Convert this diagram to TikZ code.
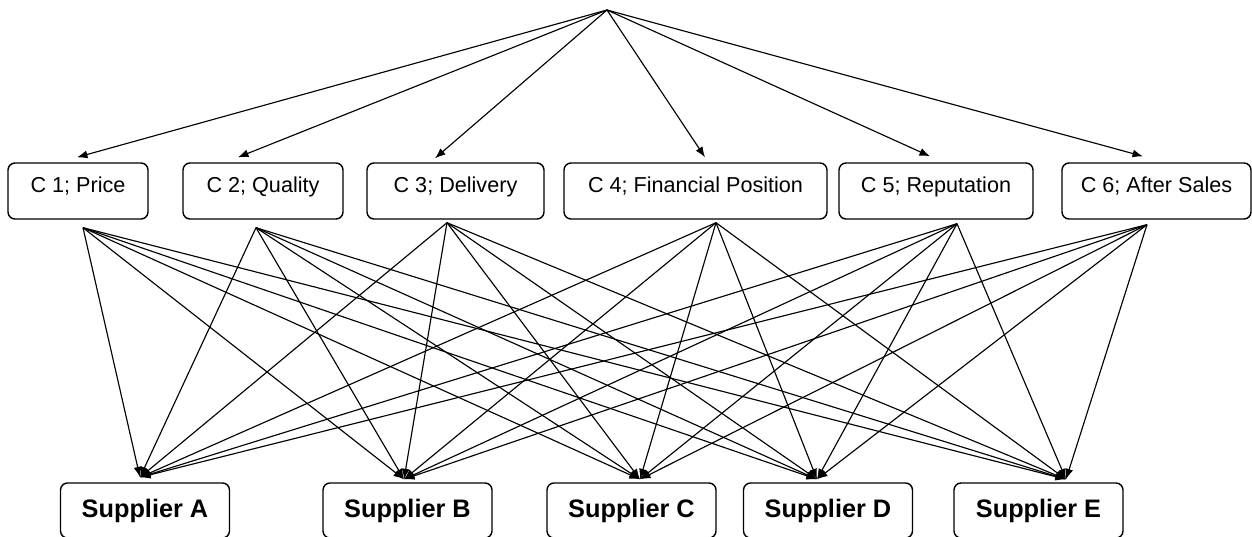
\documentclass[tikz,border=0pt]{standalone}
\usepackage{fontspec}
\setmainfont{Liberation Sans}
\setsansfont{Liberation Sans}
\usepackage{tikz}
\usetikzlibrary{arrows.meta,positioning,calc}
\tikzstyle{every picture}+=[font=\sffamily]

\tikzset{
	crit/.style={draw, rounded corners=0.14cm, line width=0.8pt, inner sep=0pt,
		minimum height=1.12cm, text height=9pt, text depth=7.6pt,
		font=\sffamily\fontsize{12.3}{14}\selectfont},
	supp/.style={draw, rounded corners=0.14cm, line width=0.8pt, inner sep=0pt,
		minimum height=1.1cm, minimum width=3.38cm,
		font=\sffamily\bfseries\fontsize{14.4}{16}\selectfont},
	link/.style={line width=0.65pt, -{Latex[length=0.21cm, width=0.16cm]}}
}

\begin{document}
\begin{tikzpicture}
		[x=0.02cm, y=-0.02cm, inner sep=0pt]
		
		\useasboundingbox (0, 0) rectangle (1252, 537);
		
		% goal ---------------------------------------------------
		\coordinate (goal) at (607, 10);
		
		% criteria -----------------------------------------------
		\node[crit, minimum width=2.80cm] (c1) at (78, 191)   {C 1; Price};
		\node[crit, minimum width=3.20cm] (c2) at (263, 191)  {C 2; Quality};
		\node[crit, minimum width=3.54cm] (c3) at (455.5, 191) {C 3; Delivery};
		\node[crit, minimum width=5.26cm] (c4) at (695.5, 191) {C 4; Financial Position};
		\node[crit, minimum width=3.88cm] (c5) at (936, 191)  {C 5; Reputation};
		\node[crit, minimum width=3.78cm] (c6) at (1156.5, 191) {C 6; After Sales};
		
		% suppliers ----------------------------------------------
		\node[supp] (sa) at (145, 510.5)    {Supplier A};
		\node[supp] (sb) at (407.5, 510.5)  {Supplier B};
		\node[supp] (sc) at (631.5, 510.5)  {Supplier C};
		\node[supp] (sd) at (828, 510.5)    {Supplier D};
		\node[supp] (se) at (1038.5, 510.5) {Supplier E};
		
		% ends of the connectors ---------------------------------
		\coordinate (c1-in) at ($(c1.north)+(-1, -5)$);
		\coordinate (c2-in) at ($(c2.north)+(-25, -5)$);
		\coordinate (c3-in) at ($(c3.north)+(-20.5, -4)$);
		\coordinate (c4-in) at ($(c4.north)+(9.5, -5)$);
		\coordinate (c5-in) at ($(c5.north)+(-6, -6)$);
		\coordinate (c6-in) at ($(c6.north)+(-13.5, -6)$);
		
		\coordinate (c1-out) at ($(c1.south)+(5, 8)$);
		\coordinate (c2-out) at ($(c2.south)+(-7, 8)$);
		\coordinate (c3-out) at ($(c3.south)+(-8.5, 3)$);
		\coordinate (c4-out) at ($(c4.south)+(20.5, 3)$);
		\coordinate (c5-out) at ($(c5.south)+(21, 4)$);
		\coordinate (c6-out) at ($(c6.south)+(-9.5, 5)$);
		
		\coordinate (sa-in) at ($(sa.north)+(-5, -5)$);
		\coordinate (sb-in) at ($(sb.north)+(-3.5, -3)$);
		\coordinate (sc-in) at ($(sc.north)+(8.5, -3)$);
		\coordinate (sd-in) at ($(sd.north)+(-11, -3)$);
		\coordinate (se-in) at ($(se.north)+(27.5, -3)$);
		
		% goal to criteria ---------------------------------------
		\draw (goal) edge[link] (c1-in) edge[link] (c2-in) edge[link] (c3-in)
			edge[link] (c4-in) edge[link] (c5-in) edge[link] (c6-in);
		
		% criteria to suppliers ----------------------------------
		\draw (c1-out) edge[link] (sa-in) edge[link] (sb-in) edge[link] (sc-in) edge[link] (sd-in) edge[link] (se-in);
		\draw (c2-out) edge[link] (sa-in) edge[link] (sb-in) edge[link] (sc-in) edge[link] (sd-in) edge[link] (se-in);
		\draw (c3-out) edge[link] (sa-in) edge[link] (sb-in) edge[link] (sc-in) edge[link] (sd-in) edge[link] (se-in);
		\draw (c4-out) edge[link] (sa-in) edge[link] (sb-in) edge[link] (sc-in) edge[link] (sd-in) edge[link] (se-in);
		\draw (c5-out) edge[link] (sa-in) edge[link] (sb-in) edge[link] (sc-in) edge[link] (sd-in) edge[link] (se-in);
		\draw (c6-out) edge[link] (sa-in) edge[link] (sb-in) edge[link] (sc-in) edge[link] (sd-in) edge[link] (se-in);
		\end{tikzpicture}
\end{document}
